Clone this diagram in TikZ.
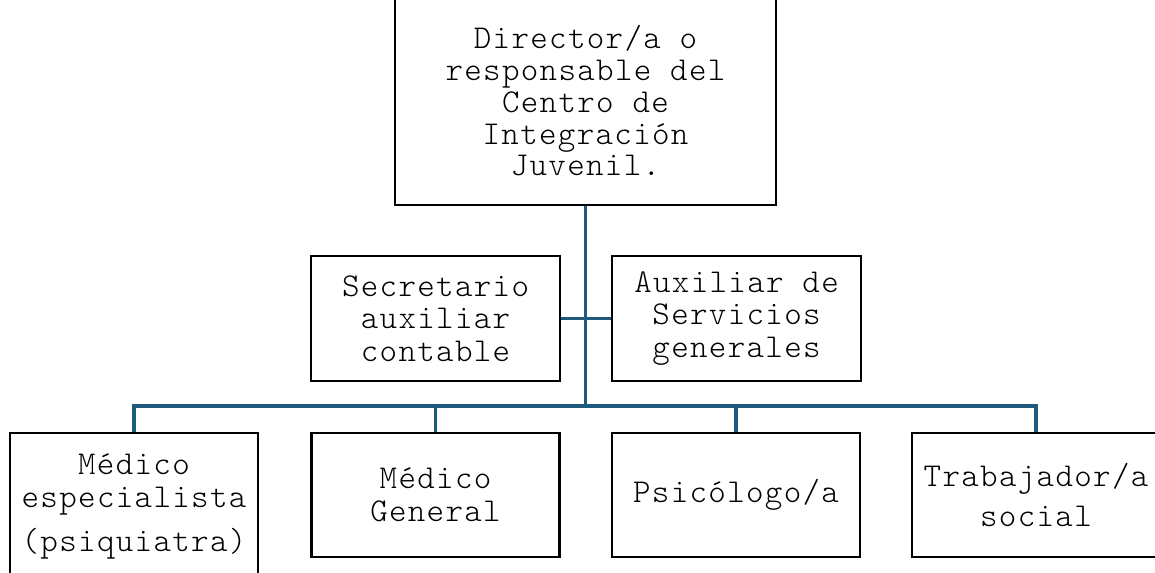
\documentclass[tikz,border=0pt]{standalone}
\usepackage{fontspec}
\newfontfamily\courfont[LetterSpace=4]{Latin Modern Mono Light}
\definecolor{linkblue}{HTML}{1F5A7C}
\begin{document}
\begin{tikzpicture}[x=0.75pt,y=-0.75pt,
  orgbox/.style={draw=black,line width=2.1pt,rectangle,inner sep=0pt,align=center,
    font=\courfont\fontsize{25}{24.4}\selectfont},
  midbox/.style={orgbox,minimum width=186.75pt,minimum height=93.75pt},
  lowbox/.style={orgbox,minimum width=186pt,minimum height=93pt},
  link/.style={draw=linkblue,line width=2.4pt}]
\useasboundingbox (0,0) rectangle (1155,573);
\clip (0,0) rectangle (1155,573);
\fill[white] (0,0) rectangle (1155,573);
\node[orgbox,minimum width=285.75pt,minimum height=156pt] (dir) at (585.5,101)
  {Director/a o\\[-0.6pt]responsable del\\[-0.6pt]Centro de\\[-0.6pt]Integración\\[-0.6pt]Juvenil.};
\node[midbox] (sec) at (435.5,318.5) {Secretario\\auxiliar\\contable};
\node[midbox] (aux) at (736.5,318.5) {Auxiliar de\\Servicios\\generales};
\node[lowbox,minimum height=110.25pt] (m1) at (134,506.5) {Médico\\especialista\\[9pt](psiquiatra)};
\node[lowbox] (m2) at (435.5,495) {Médico\\General};
\node[lowbox] (psi) at (736,495) {Psicólogo/a};
\node[lowbox] (tra) at (1036,495) {Trabajador/a\\[5pt]social};
\coordinate (bus) at (585.5,406);
\draw[link] (dir.south) -- (bus);
\draw[link] (sec.east) -- (aux.west);
\draw[link] (m1.north) |- (bus) -| (tra.north);
\draw[link] (m2.north) -- (m2.north |- bus);
\draw[link] (psi.north) -- (psi.north |- bus);
\end{tikzpicture}
\end{document}
